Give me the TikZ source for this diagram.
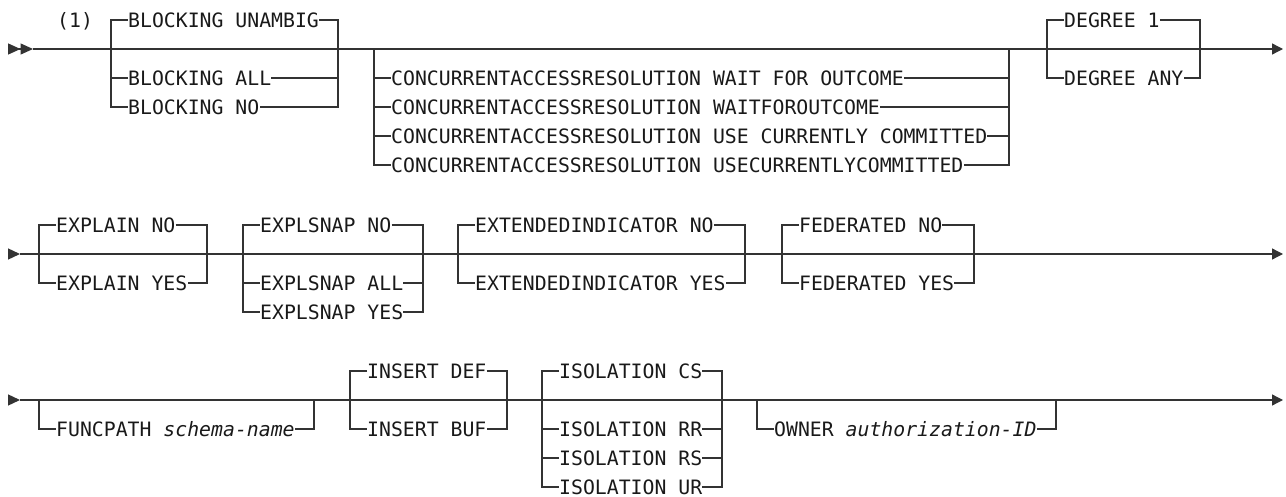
\documentclass[tikz,border=0pt]{standalone}
\usepackage{fontspec}
\setmonofont{DejaVu Sans Mono}[ItalicFont={DejaVu Sans Mono Oblique}]
\usetikzlibrary{arrows.meta}

\begin{document}
\begin{tikzpicture}[
    x=1pt, y=-1pt,
    rail/.style={draw=black!80, line width=1.3pt},
    mainrail/.style={rail, -{Triangle[length=11pt, width=11pt]}},
    startrail/.style={rail, -{Triangle[length=12pt, width=11pt]}},
    dblrail/.style={rail, -{Triangle[length=12.5pt, width=11pt, sep=0pt] Triangle[length=12.5pt, width=11pt, sep=0pt]}},
    opt/.style={inner sep=0pt, anchor=west, text height=14.4pt, text depth=0pt,
        font=\ttfamily\fontsize{19.8}{24}\selectfont, text=black!90}
]
\useasboundingbox (0,0) rectangle (1286,497);

% First line
\coordinate (r1s) at (8,49);
\coordinate (r1a) at (33,49);
\coordinate (r1e) at (1283,49);
\draw[dblrail] (r1s) -- (r1a);
\draw[mainrail] (r1a) -- (r1e);
\node[opt] (note1) at (57,20) {(1)};

% BLOCKING
\coordinate (blkL) at (111,49);
\coordinate (blkR) at (338,49);
\node[opt] (blkunambig) at (128,20) {BLOCKING UNAMBIG};
\node[opt] (blkall) at (128,78) {BLOCKING ALL};
\node[opt] (blkno) at (128,107) {BLOCKING NO};
\draw[rail] (blkunambig.west) -| (blkL) |- (blkno.west);
\draw[rail] (blkall.west) -- (blkall.west -| blkL);
\draw[rail] (blkunambig.east) -| (blkR) |- (blkno.east);
\draw[rail] (blkall.east) -- (blkall.east -| blkR);

% CONCURRENTACCESSRESOLUTION
\coordinate (carL) at (374,49);
\coordinate (carR) at (1009,49);
\node[opt] (carwait) at (391,78) {CONCURRENTACCESSRESOLUTION WAIT FOR OUTCOME};
\node[opt] (carwaitx) at (391,107) {CONCURRENTACCESSRESOLUTION WAITFOROUTCOME};
\node[opt] (caruse) at (391,136) {CONCURRENTACCESSRESOLUTION USE CURRENTLY COMMITTED};
\node[opt] (carusex) at (391,165) {CONCURRENTACCESSRESOLUTION USECURRENTLYCOMMITTED};
\draw[rail] (carL) |- (carusex.west);
\draw[rail] (carwait.west) -- (carwait.west -| carL);
\draw[rail] (carwaitx.west) -- (carwaitx.west -| carL);
\draw[rail] (caruse.west) -- (caruse.west -| carL);
\draw[rail] (carR) |- (carusex.east);
\draw[rail] (carwait.east) -- (carwait.east -| carR);
\draw[rail] (carwaitx.east) -- (carwaitx.east -| carR);
\draw[rail] (caruse.east) -- (caruse.east -| carR);

% DEGREE
\coordinate (degL) at (1047,49);
\coordinate (degR) at (1200,49);
\node[opt] (degone) at (1064,20) {DEGREE 1};
\node[opt] (degany) at (1064,78) {DEGREE ANY};
\draw[rail] (degone.west) -| (degL) |- (degany.west);
\draw[rail] (degone.east) -| (degR) |- (degany.east);

% Second line
\coordinate (r2s) at (8,254);
\coordinate (r2a) at (20,254);
\coordinate (r2e) at (1283,254);
\draw[startrail] (r2s) -- (r2a);
\draw[mainrail] (r2a) -- (r2e);

% EXPLAIN
\coordinate (expL) at (39,254);
\coordinate (expR) at (207,254);
\node[opt] (expno) at (56,225) {EXPLAIN NO};
\node[opt] (expyes) at (56,283) {EXPLAIN YES};
\draw[rail] (expno.west) -| (expL) |- (expyes.west);
\draw[rail] (expno.east) -| (expR) |- (expyes.east);

% EXPLSNAP
\coordinate (snapL) at (243,254);
\coordinate (snapR) at (423,254);
\node[opt] (snapno) at (260,225) {EXPLSNAP NO};
\node[opt] (snapall) at (260,283) {EXPLSNAP ALL};
\node[opt] (snapyes) at (260,312) {EXPLSNAP YES};
\draw[rail] (snapno.west) -| (snapL) |- (snapyes.west);
\draw[rail] (snapall.west) -- (snapall.west -| snapL);
\draw[rail] (snapno.east) -| (snapR) |- (snapyes.east);
\draw[rail] (snapall.east) -- (snapall.east -| snapR);

% EXTENDEDINDICATOR
\coordinate (extL) at (458,254);
\coordinate (extR) at (745,254);
\node[opt] (extno) at (475,225) {EXTENDEDINDICATOR NO};
\node[opt] (extyes) at (475,283) {EXTENDEDINDICATOR YES};
\draw[rail] (extno.west) -| (extL) |- (extyes.west);
\draw[rail] (extno.east) -| (extR) |- (extyes.east);

% FEDERATED
\coordinate (fedL) at (782,254);
\coordinate (fedR) at (974,254);
\node[opt] (fedno) at (799,225) {FEDERATED NO};
\node[opt] (fedyes) at (799,283) {FEDERATED YES};
\draw[rail] (fedno.west) -| (fedL) |- (fedyes.west);
\draw[rail] (fedno.east) -| (fedR) |- (fedyes.east);

% Third line
\coordinate (r3s) at (8,400);
\coordinate (r3a) at (20,400);
\coordinate (r3e) at (1283,400);
\draw[startrail] (r3s) -- (r3a);
\draw[mainrail] (r3a) -- (r3e);

% FUNCPATH
\coordinate (fpL) at (39,400);
\coordinate (fpR) at (314,400);
\node[opt] (fp) at (56,429) {FUNCPATH \textit{schema-name}};
\draw[rail] (fpL) |- (fp.west);
\draw[rail] (fpR) |- (fp.east);

% INSERT
\coordinate (insL) at (350,400);
\coordinate (insR) at (507,400);
\node[opt] (insdef) at (367,371) {INSERT DEF};
\node[opt] (insbuf) at (367,429) {INSERT BUF};
\draw[rail] (insdef.west) -| (insL) |- (insbuf.west);
\draw[rail] (insdef.east) -| (insR) |- (insbuf.east);

% ISOLATION
\coordinate (isoL) at (542,400);
\coordinate (isoR) at (722,400);
\node[opt] (isocs) at (559,371) {ISOLATION CS};
\node[opt] (isorr) at (559,429) {ISOLATION RR};
\node[opt] (isors) at (559,458) {ISOLATION RS};
\node[opt] (isour) at (559,487) {ISOLATION UR};
\draw[rail] (isocs.west) -| (isoL) |- (isour.west);
\draw[rail] (isorr.west) -- (isorr.west -| isoL);
\draw[rail] (isors.west) -- (isors.west -| isoL);
\draw[rail] (isocs.east) -| (isoR) |- (isour.east);
\draw[rail] (isorr.east) -- (isorr.east -| isoR);
\draw[rail] (isors.east) -- (isors.east -| isoR);

% OWNER
\coordinate (ownL) at (757,400);
\coordinate (ownR) at (1056,400);
\node[opt] (own) at (774,429) {OWNER \textit{authorization-ID}};
\draw[rail] (ownL) |- (own.west);
\draw[rail] (ownR) |- (own.east);

\end{tikzpicture}
\end{document}
